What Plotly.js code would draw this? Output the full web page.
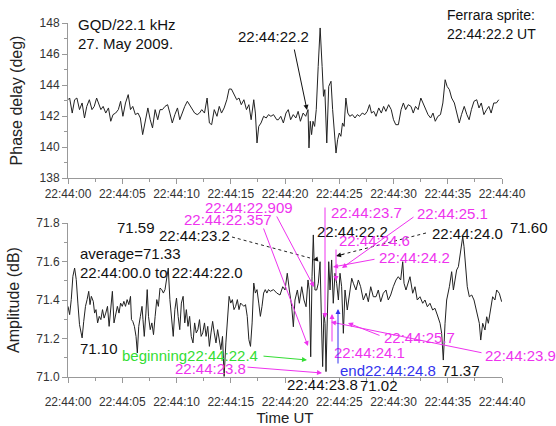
<!DOCTYPE html>
<html><head><meta charset="utf-8">
<script src="https://cdn.plot.ly/plotly-3.0.1.min.js"></script>
<style>html,body{margin:0;padding:0;background:#fff}#c{width:556px;height:426px}</style>
</head><body><div id="c"></div>
<script>
// ---- data (seconds after 22:44:00 UT) ----
const tickVals = [0,5,10,15,20,25,30,35,40];
const tickText = ["22:44:00","22:44:05","22:44:10","22:44:15","22:44:20","22:44:25","22:44:30","22:44:35","22:44:40"];

const phaseT = [0.00,0.15,0.39,0.61,0.82,1.06,1.30,1.52,1.73,1.97,2.21,2.42,2.64,2.82,3.03,3.24,3.48,3.73,3.94,4.15,4.39,4.64,4.85,5.06,5.30,5.55,5.76,5.97,6.21,6.45,6.67,6.88,7.12,7.36,7.58,7.79,8.03,8.27,8.48,8.70,8.94,9.18,9.39,9.61,9.85,10.09,10.30,10.52,10.76,11.00,11.21,11.42,11.67,11.91,12.12,12.33,12.58,12.82,13.03,13.24,13.48,13.73,13.94,14.15,14.39,14.64,14.85,15.06,15.30,15.55,15.76,15.97,16.21,16.45,16.67,16.88,17.12,17.27,17.42,17.58,17.79,18.03,18.27,18.48,18.70,18.94,19.24,
19.39,19.61,19.85,20.09,20.30,20.52,20.76,21.00,21.21,21.42,21.67,21.91,22.12,22.21,22.33,22.45,22.58,22.73,22.88,23.06,23.24,23.42,23.55,23.67,23.85,24.03,24.24,24.39,24.55,24.70,24.85,25.00,25.15,25.30,25.45,25.61,25.79,25.97,26.21,26.45,26.67,26.88,27.12,27.36,27.58,27.79,27.97,28.18,28.39,28.64,28.88,29.09,29.30,29.55,29.79,30.00,30.21,30.45,30.70,30.91,31.12,31.36,31.61,31.82,32.03,32.27,32.52,32.73,32.94,33.18,33.42,33.64,33.85,34.09,34.33,34.55,34.76,34.94,35.15,35.36,35.61,35.85,36.06,36.27,36.52,36.76,36.97,37.18,37.42,37.67,37.88,38.09,38.33,38.58,38.79,39.00,39.24,39.48,39.70];
const phaseV = [143.05,143.16,142.19,143.05,143.16,142.41,142.84,141.87,142.62,143.05,142.41,142.62,143.16,142.84,142.41,142.62,142.19,142.52,141.66,142.09,142.19,142.41,142.95,141.98,142.84,143.38,142.41,142.62,142.09,142.19,141.87,140.80,141.55,142.52,141.76,141.23,142.41,141.76,142.41,142.41,142.62,142.73,142.19,141.55,142.09,142.52,141.76,142.19,142.62,142.95,142.73,142.52,142.19,142.09,142.19,142.41,142.19,143.16,141.55,141.44,142.41,141.98,142.62,142.19,142.52,143.05,143.74,143.74,143.38,143.05,143.16,142.73,143.05,142.41,142.73,141.76,143.05,142.19,140.26,141.33,141.55,141.98,141.87,142.09,141.98,142.09,141.76,
141.76,141.98,141.55,142.19,142.41,141.76,142.09,141.87,142.30,141.66,142.19,141.98,142.41,139.94,141.66,140.80,141.66,141.33,142.41,145.20,147.68,145.20,143.27,143.70,140.26,143.91,144.24,142.41,140.90,139.61,140.47,140.90,140.69,141.55,141.33,143.16,142.19,141.98,142.09,141.87,142.09,141.98,142.19,142.09,142.30,142.73,142.19,142.30,141.98,142.52,142.19,142.62,142.30,142.73,142.41,141.76,141.44,141.44,142.41,142.84,142.41,142.73,142.62,142.19,142.62,142.41,143.16,142.84,142.41,142.09,141.87,142.19,141.66,141.98,142.09,142.84,144.34,143.91,143.70,143.16,142.84,142.19,141.55,142.09,142.62,142.09,141.76,142.41,142.95,143.05,142.52,142.84,142.09,142.41,142.62,142.19,142.84,142.84,143.05];

const ampT = [0.00,0.15,0.30,0.45,0.61,0.76,0.91,1.06,1.21,1.30,1.45,1.61,1.76,1.91,2.03,2.15,2.33,2.45,2.58,2.73,2.88,3.03,3.18,3.33,3.48,3.64,3.79,3.94,4.09,4.24,4.39,4.55,4.70,4.85,5.00,5.15,5.30,5.45,5.61,5.76,5.85,5.97,6.12,6.27,6.39,6.52,6.67,6.82,6.91,7.03,7.18,7.30,7.42,7.58,7.73,7.88,8.03,8.18,8.33,8.48,8.64,8.79,8.94,9.09,9.24,9.39,9.55,9.70,9.85,10.00,10.15,10.30,10.45,10.61,10.76,10.91,11.06,11.21,11.36,11.52,11.67,11.82,11.97,12.12,12.27,12.42,12.58,12.73,12.88,13.03,13.18,13.33,13.48,13.64,13.79,13.94,14.09,14.24,14.39,14.55,14.70,14.85,15.00,15.15,15.30,15.45,15.61,15.76,15.91,16.06,16.21,16.36,16.52,16.67,16.82,16.97,17.12,17.27,17.42,17.58,17.73,17.88,18.03,18.18,18.33,18.48,18.64,18.94,19.24,
19.54,19.79,20.00,20.21,20.40,20.62,20.77,20.92,21.14,21.32,21.54,21.75,21.94,22.12,22.24,22.37,22.49,22.61,22.76,22.92,23.07,23.23,23.38,23.47,23.59,23.69,23.78,23.90,24.03,24.15,24.30,24.45,24.61,24.76,24.92,25.07,25.22,25.38,25.53,25.74,25.93,26.15,26.30,26.54,26.76,26.97,27.22,27.47,27.68,27.90,28.14,28.39,28.60,28.82,29.06,29.31,29.52,29.74,29.98,30.23,30.44,30.66,30.85,30.97,31.15,31.37,31.52,31.77,31.98,32.19,32.44,32.69,32.90,33.12,33.36,33.61,33.82,34.04,34.29,34.44,34.59,34.75,34.90,35.15,35.36,35.52,35.67,35.82,35.98,36.19,36.38,36.50,36.68,36.80,36.99,37.21,37.42,37.67,37.91,38.04,38.22,38.43,38.59,38.74,38.96,39.14,39.35,39.51,39.75,39.97];
const ampV = [71.367,71.324,71.402,71.523,71.566,71.506,71.384,71.272,71.229,71.203,71.289,71.367,71.402,71.445,71.376,71.419,71.393,71.332,71.350,71.281,71.315,71.298,71.350,71.306,71.332,71.367,71.263,71.358,71.445,71.281,71.315,71.367,71.332,71.384,71.367,71.393,71.367,71.402,71.376,71.419,71.298,71.289,71.263,71.211,71.125,71.263,71.315,71.367,71.298,71.211,71.332,71.454,71.315,71.246,71.281,71.220,71.315,71.402,71.367,71.462,71.454,71.436,71.454,71.514,71.566,71.402,71.281,71.211,71.350,71.410,71.315,71.246,71.384,71.419,71.281,71.350,71.263,71.315,71.211,71.177,71.281,71.229,71.246,71.298,71.211,71.229,71.281,71.211,71.263,71.159,71.229,71.289,71.229,71.177,71.246,71.194,71.142,71.211,71.003,71.177,71.315,71.419,71.384,71.402,71.350,71.367,71.402,71.350,71.384,71.376,71.367,71.376,71.315,71.194,71.159,71.281,71.488,71.436,71.454,71.384,71.315,71.367,71.436,71.454,71.436,71.454,71.445,71.454,71.436,
71.426,71.469,71.452,71.539,71.452,71.365,71.261,71.400,71.452,71.383,71.469,71.400,71.365,71.504,71.452,71.105,71.521,71.738,71.452,71.452,71.487,71.599,71.244,71.054,71.331,71.279,71.028,71.313,71.599,71.452,71.608,71.383,71.539,71.487,71.400,71.539,71.469,71.227,71.452,71.348,71.435,71.513,71.487,71.452,71.504,71.469,71.400,71.435,71.391,71.469,71.417,71.417,71.452,71.391,71.435,71.452,71.400,71.426,71.469,71.504,71.521,71.504,71.599,71.487,71.452,71.487,71.521,71.435,71.469,71.400,71.417,71.383,71.400,71.365,71.383,71.348,71.357,71.322,71.279,71.227,71.088,71.279,71.400,71.469,71.547,71.452,71.504,71.556,71.573,71.643,71.729,71.677,71.556,71.469,71.417,71.426,71.400,71.331,71.279,71.192,71.279,71.244,71.313,71.279,71.348,71.417,71.400,71.452,71.435,71.391];

// ---- layout helpers ----
const W = 556, H = 426;
const FONT = 'Arial, "Liberation Sans", sans-serif';
const MAG = '#ee33ee', GRN = '#33dd33', BLU = '#3333ee', BLK = '#111111';
function lbl(text, px, py, color, size, anchor) {
  return {xref:'paper', yref:'paper', x:px/W, y:1-py/H, text:text, showarrow:false,
          xanchor:anchor||'left', yanchor:'middle', font:{color:color, size:size||15, family:FONT}};
}
function arr(tx, ty, hx, hy, color) {
  return {xref:'paper', yref:'paper', x:hx/W, y:1-hy/H, ax:tx-hx, ay:ty-hy, axref:'pixel', ayref:'pixel',
          text:'', showarrow:true, arrowhead:2, arrowsize:1, arrowwidth:1, arrowcolor:color};
}
function dot(x0,y0,x1,y1){
  return {type:'line', xref:'paper', yref:'paper', x0:x0/W, y0:1-y0/H, x1:x1/W, y1:1-y1/H,
          line:{color:'#222', width:1, dash:'dot'}};
}

const axCommon = {showline:true, linecolor:'#999', linewidth:1, ticks:'outside', ticklen:5, tickcolor:'#999',
  showgrid:false, zeroline:false, tickfont:{size:12, color:'#333', family:FONT}};

const trace1 = {x:phaseT, y:phaseV, xaxis:'x', yaxis:'y', type:'scatter', mode:'lines',
  line:{color:'#222', width:1}, hoverinfo:'skip'};
const trace2 = {x:ampT, y:ampV, xaxis:'x2', yaxis:'y2', type:'scatter', mode:'lines',
  line:{color:'#222', width:1}, hoverinfo:'skip'};

const xdom = [68/W, 502/W];
const layout = {
  width:W, height:H, margin:{l:0,r:0,t:0,b:0}, paper_bgcolor:'#fff', plot_bgcolor:'#fff',
  showlegend:false, font:{family:FONT, color:'#222'},
  xaxis: Object.assign({}, axCommon, {domain:xdom, anchor:'y', range:[0,40], tickmode:'array',
    tickvals:tickVals, ticktext:tickText, tickfont:{size:12,color:'#333',family:FONT},
    minor:{tickmode:'linear', tick0:0, dtick:2.5, ticks:'outside', ticklen:3, tickcolor:'#999'}}),
  yaxis: Object.assign({}, axCommon, {domain:[1-178/H, 1-23/H], anchor:'x', range:[138,148], dtick:2, tick0:138,
    minor:{dtick:1, ticks:'outside', ticklen:3, tickcolor:'#999'},
    title:{text:'Phase delay (deg)', font:{size:16, color:'#222', family:FONT}, standoff:12}}),
  xaxis2: Object.assign({}, axCommon, {domain:xdom, anchor:'y2', range:[0,40], tickmode:'array',
    tickvals:tickVals, ticktext:tickText, tickfont:{size:12,color:'#333',family:FONT}, ticklabelstandoff:9,
    minor:{tickmode:'linear', tick0:0, dtick:2.5, ticks:'outside', ticklen:3, tickcolor:'#999'},
    title:{text:'Time UT', font:{size:15, color:'#222', family:FONT}, standoff:4}}),
  yaxis2: Object.assign({}, axCommon, {domain:[1-377/H, 1-223/H], anchor:'x2', range:[71.0,71.8], dtick:0.2, tick0:71,
    tickformat:'.1f', minor:{dtick:0.1, ticks:'outside', ticklen:3, tickcolor:'#999'},
    title:{text:'Amplitude (dB)', font:{size:16, color:'#222', family:FONT}, standoff:12}}),
  shapes:[ dot(232,237,310,258), dot(426,233,340,255) ],
  annotations:[
    // top panel
    lbl('GQD/22.1 kHz', 76, 24, BLK),
    lbl('27. May 2009.', 76, 43, BLK),
    lbl('22:44:22.2', 273, 36, BLK, 15, 'center'),
    arr(294, 48, 307, 110, BLK),
    lbl('Ferrara sprite:', 445, 15, BLK, 14),
    lbl('22:44:22.2 UT', 445, 34, BLK, 14),
    // bottom panel
    lbl('71.59', 136, 228, BLK, 15, 'center'),
    lbl('22:44:23.2', 157, 235, BLK),
    lbl('average=71.33', 78, 253, BLK),
    lbl('22:44:00.0 to 22:44:22.0', 78, 272, BLK),
    lbl('71.10', 78, 348, BLK),
    lbl('beginning22:44:22.4', 120, 355, GRN),
    arr(262, 356, 307, 360, GRN),
    lbl('22:44:23.8', 173, 368, MAG),
    arr(246, 367, 322, 373, MAG),
    lbl('22:44:22.909', 203, 207, MAG),
    arr(276, 215, 314, 287, MAG),
    lbl('22:44:22.357', 182, 219, MAG),
    arr(263, 227, 308, 346, MAG),
    lbl('22:44:23.7', 329, 212, MAG),
    arr(325, 206, 325, 318, MAG),
    lbl('22:44:22.2', 315, 231, BLK),
    lbl('22:44:24.0', 430, 233, BLK),
    arr(318, 259, 313, 260, BLK),
    arr(345, 254, 336, 256, BLK),
    lbl('71.60', 508, 227, BLK),
    lbl('22:44:25.1', 415, 213, MAG),
    arr(415, 216, 342, 268, MAG),
    lbl('22:44:24.6', 337, 241, MAG),
    arr(336, 248, 336, 281, MAG),
    lbl('22:44:24.2', 377, 257, MAG),
    arr(376, 259, 333, 267, MAG),
    lbl('22:44:25.7', 382, 337, MAG),
    arr(381, 336, 348, 323, MAG),
    lbl('22:44:23.9', 483, 355, MAG),
    arr(483, 353, 331, 322, MAG),
    lbl('22:44:24.1', 332, 352, MAG),
    arr(332, 343, 332, 314, MAG),
    lbl('end22:44:24.8', 338, 370, BLU),
    arr(338, 365, 338, 309, BLU),
    lbl('71.37', 440, 370, BLK),
    lbl('22:44:23.8', 285, 384, BLK),
    lbl('71.02', 358, 385, BLK)
  ]
};
Plotly.newPlot('c', [trace1, trace2], layout, {displayModeBar:false, staticPlot:true});
</script>
</body></html>
